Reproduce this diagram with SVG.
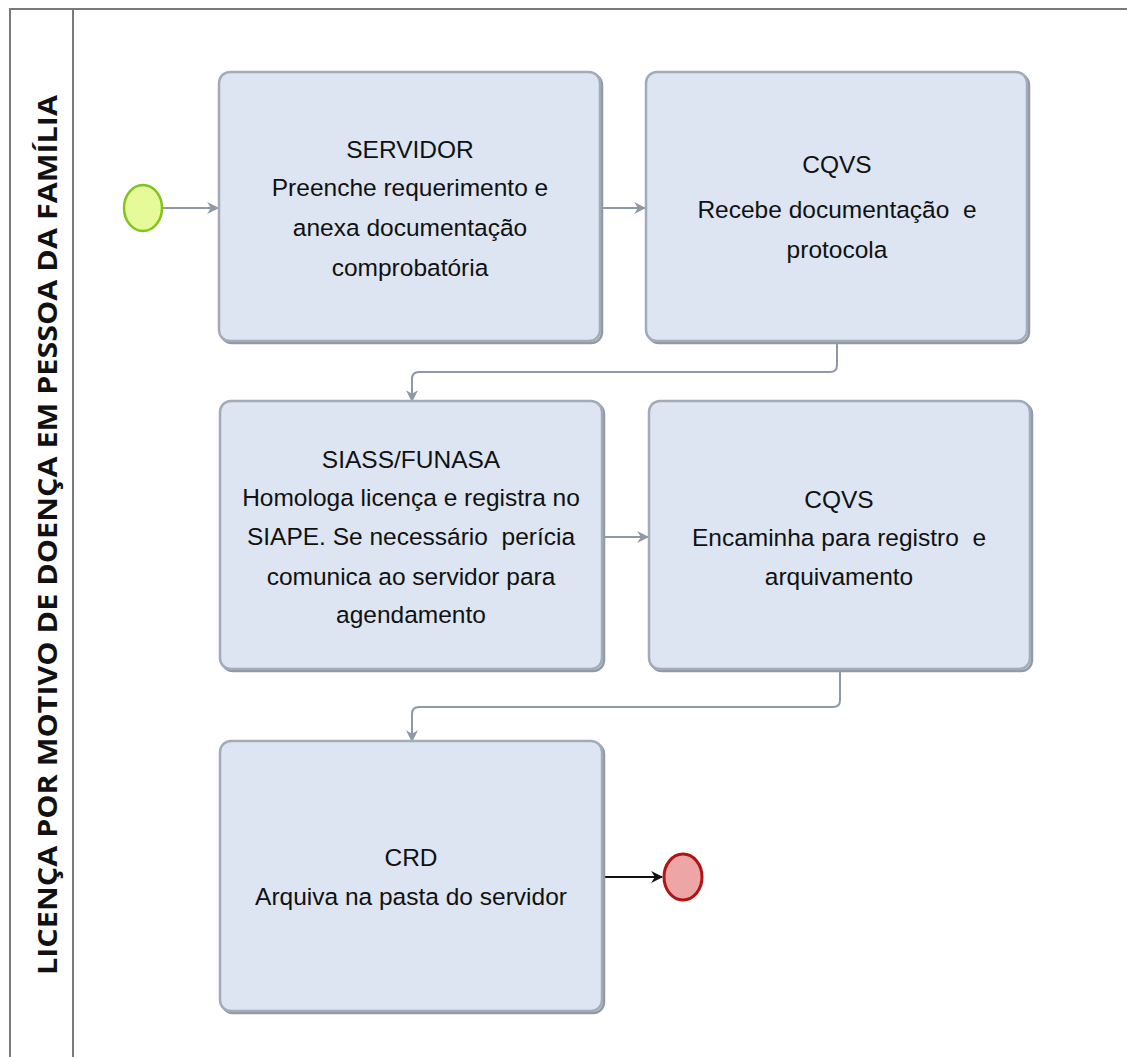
<svg xmlns="http://www.w3.org/2000/svg" width="1127" height="1057" viewBox="0 0 1127 1057">
  <style>
    .task rect.body { fill: #dce5f1; stroke: #a2acb8; stroke-width: 2.5; }
    .task rect.shade { fill: none; stroke: #9099a6; stroke-width: 2.5; }
    .task text { font-family: "Liberation Sans", sans-serif; font-size: 24.5px; fill: #111; text-anchor: middle; }
    .flow { fill: none; stroke: #8e99a8; stroke-width: 2; }
    .flow-dark { fill: none; stroke: #111; stroke-width: 2; }
    .lane { fill: none; stroke: #7a7a7a; stroke-width: 2; }
    .title { font-family: "Open Sans", "Liberation Sans", sans-serif; font-weight: bold; font-size: 27px; fill: #111; text-anchor: middle; }
  </style>
  <defs>
    <marker id="arrow" viewBox="0 0 10 10" refX="9" refY="5" markerWidth="12" markerHeight="12" markerUnits="userSpaceOnUse" orient="auto">
      <path d="M0,0 L10,5 L0,10 L3,5 Z" fill="#8e99a8"/>
    </marker>
    <marker id="arrow-dark" viewBox="0 0 10 10" refX="9" refY="5" markerWidth="12" markerHeight="12" markerUnits="userSpaceOnUse" orient="auto">
      <path d="M0,0 L10,5 L0,10 L3,5 Z" fill="#111"/>
    </marker>
  </defs>

  <rect width="1127" height="1057" fill="#ffffff"/>

  <!-- pool and lane header -->
  <g id="pool">
    <path class="lane" d="M10,1057 V9 H1127"/>
    <path class="lane" d="M73,9 V1057"/>
    <text class="title" transform="translate(57,535) rotate(-90)" textLength="880" lengthAdjust="spacingAndGlyphs">LICENÇA POR MOTIVO DE DOENÇA EM PESSOA DA FAMÍLIA</text>
  </g>

  <!-- sequence flows -->
  <g id="connectors">
    <path class="flow" d="M163,208 H218" marker-end="url(#arrow)"/>
    <path class="flow" d="M603,208 H645" marker-end="url(#arrow)"/>
    <path class="flow" d="M837,343 V365 Q837,372 830,372 H419 Q412,372 412,379 V401" marker-end="url(#arrow)"/>
    <path class="flow" d="M605,537 H648" marker-end="url(#arrow)"/>
    <path class="flow" d="M840,671 V700 Q840,707 833,707 H419 Q412,707 412,714 V741" marker-end="url(#arrow)"/>
    <path class="flow-dark" d="M605,877 H662" marker-end="url(#arrow-dark)"/>
  </g>

  <!-- start event -->
  <g id="start">
    <ellipse cx="143" cy="208" rx="19" ry="23" fill="#e6fa9a" stroke="#80c41f" stroke-width="2.5"/>
  </g>

  <g id="task-servidor" class="task">
    <rect class="shade" x="221" y="74" width="381" height="269" rx="11"/>
    <rect class="body" x="219" y="72" width="381" height="269" rx="11"/>
    <text x="410" y="158">SERVIDOR</text>
    <text x="410" y="196">Preenche requerimento e</text>
    <text x="410" y="236">anexa documentação</text>
    <text x="410" y="276">comprobatória</text>
  </g>

  <g id="task-cqvs-recebe" class="task">
    <rect class="shade" x="648" y="74" width="381" height="269" rx="11"/>
    <rect class="body" x="646" y="72" width="381" height="269" rx="11"/>
    <text x="837" y="173">CQVS</text>
    <text x="837" y="218" xml:space="preserve">Recebe documentação  e</text>
    <text x="837" y="258">protocola</text>
  </g>

  <g id="task-siass" class="task">
    <rect class="shade" x="222" y="403" width="382" height="268" rx="11"/>
    <rect class="body" x="220" y="401" width="382" height="268" rx="11"/>
    <text x="411" y="468">SIASS/FUNASA</text>
    <text x="411" y="506">Homologa licença e registra no</text>
    <text x="411" y="545" xml:space="preserve">SIAPE. Se necessário  perícia</text>
    <text x="411" y="585">comunica ao servidor para</text>
    <text x="411" y="623">agendamento</text>
  </g>

  <g id="task-cqvs-encaminha" class="task">
    <rect class="shade" x="651" y="403" width="381" height="268" rx="11"/>
    <rect class="body" x="649" y="401" width="381" height="268" rx="11"/>
    <text x="839" y="508">CQVS</text>
    <text x="839" y="546" xml:space="preserve">Encaminha para registro  e</text>
    <text x="839" y="585">arquivamento</text>
  </g>

  <g id="task-crd" class="task">
    <rect class="shade" x="222" y="743" width="382" height="270" rx="11"/>
    <rect class="body" x="220" y="741" width="382" height="270" rx="11"/>
    <text x="411" y="866">CRD</text>
    <text x="411" y="905">Arquiva na pasta do servidor</text>
  </g>

  <!-- end event -->
  <g id="end">
    <ellipse cx="683" cy="877" rx="19" ry="23" fill="#eda5a5" stroke="#b01515" stroke-width="3"/>
  </g>
</svg>
